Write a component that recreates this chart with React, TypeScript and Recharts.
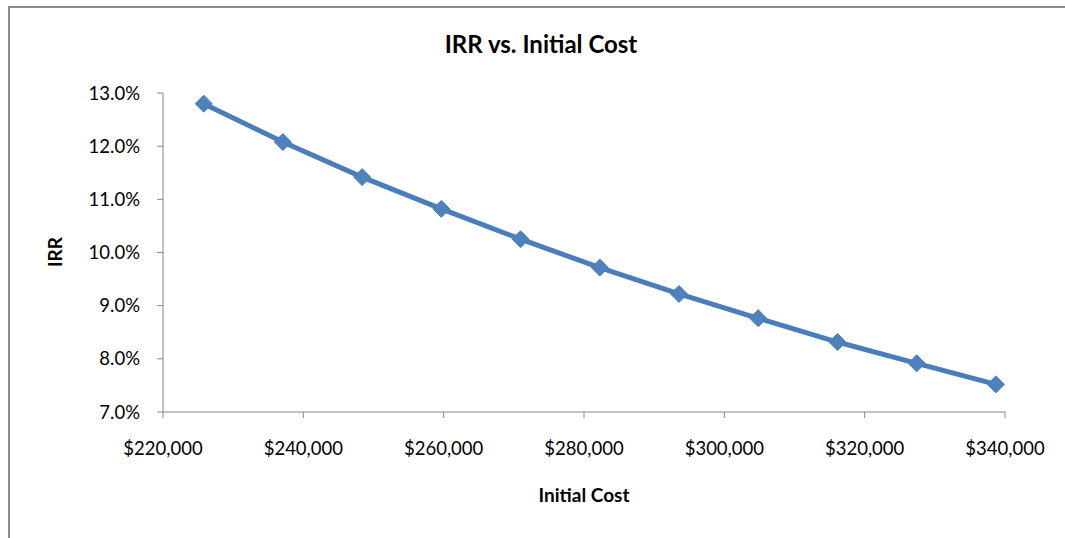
import React from 'react';
import { LineChart, Line, XAxis, YAxis } from 'recharts';

const initialCost = [225800, 237090, 248380, 259670, 270960, 282250, 293540, 304830, 316120, 327410, 338700];
const irr = [0.128, 0.12077, 0.11418, 0.10821, 0.1025, 0.09716, 0.0922, 0.08763, 0.08316, 0.07915, 0.0752];
const xTicks = [220000, 240000, 260000, 280000, 300000, 320000, 340000];
const yTicks = [0.07, 0.08, 0.09, 0.1, 0.11, 0.12, 0.13];

const data = initialCost.map((c, i) => ({ cost: c, irr: irr[i] }));

const FONT = 'Lato, "Open Sans", sans-serif';
const AXIS = '#868686';
const BLUE = '#4A7EBB';

const Diamond = (props: any) => {
  const { cx, cy } = props;
  if (cx == null || cy == null) return null;
  const r = 8.5;
  return (
    <polygon
      points={`${cx},${cy - r} ${cx + r},${cy} ${cx},${cy + r} ${cx - r},${cy}`}
      fill="#4F81BD"
      stroke={BLUE}
      strokeWidth={1}
    />
  );
};

const money = (v: number) => '$' + v.toLocaleString('en-US');
const pct = (v: number) => (v * 100).toFixed(1) + '%';

export default function App() {
  return (
    <div style={{ position: 'absolute', left: 0, top: 0, width: 1065, height: 538, overflow: 'hidden', background: '#fff' }}>
      <div style={{ position: 'absolute', left: 8, top: 6, width: 1200, height: 700, borderLeft: '2px solid #8c8c8c', borderTop: '2px solid #8c8c8c' }} />
      <div style={{ position: 'absolute', left: 0, top: 0 }}>
        <LineChart width={1065} height={538} data={data} margin={{ top: 93, right: 60, bottom: 46, left: 103 }}>
          <XAxis
            dataKey="cost"
            type="number"
            domain={[220000, 340000]}
            ticks={xTicks}
            tickFormatter={money}
            stroke={AXIS}
            tickSize={6}
            tickMargin={24}
            height={80}
            tick={{ fill: '#000', fontSize: 18.5, fontFamily: FONT }}
            interval={0}
          />
          <YAxis
            type="number"
            domain={[0.07, 0.13]}
            ticks={yTicks}
            tickFormatter={pct}
            stroke={AXIS}
            tickSize={6}
            tickMargin={17}
            width={60}
            tick={{ fill: '#000', fontSize: 18.5, fontFamily: FONT }}
            interval={0}
          />
          <Line
            dataKey="irr"
            stroke={BLUE}
            strokeWidth={5}
            dot={<Diamond />}
            activeDot={false}
            isAnimationActive={false}
          />
        </LineChart>
      </div>
      <svg width={1065} height={538} style={{ position: 'absolute', left: 0, top: 0, pointerEvents: 'none' }}>
        <text x={541} y={53} textAnchor="middle" fontFamily={FONT} fontWeight="bold" fontSize={24} fill="#000">
          IRR vs. Initial Cost
        </text>
        <text x={584} y={502} textAnchor="middle" fontFamily={FONT} fontWeight="bold" fontSize={19} fill="#000">
          Initial Cost
        </text>
        <text x={62} y={252} textAnchor="middle" fontFamily={FONT} fontWeight="bold" fontSize={19} fill="#000" transform="rotate(-90, 62, 252)">
          IRR
        </text>
      </svg>
    </div>
  );
}
